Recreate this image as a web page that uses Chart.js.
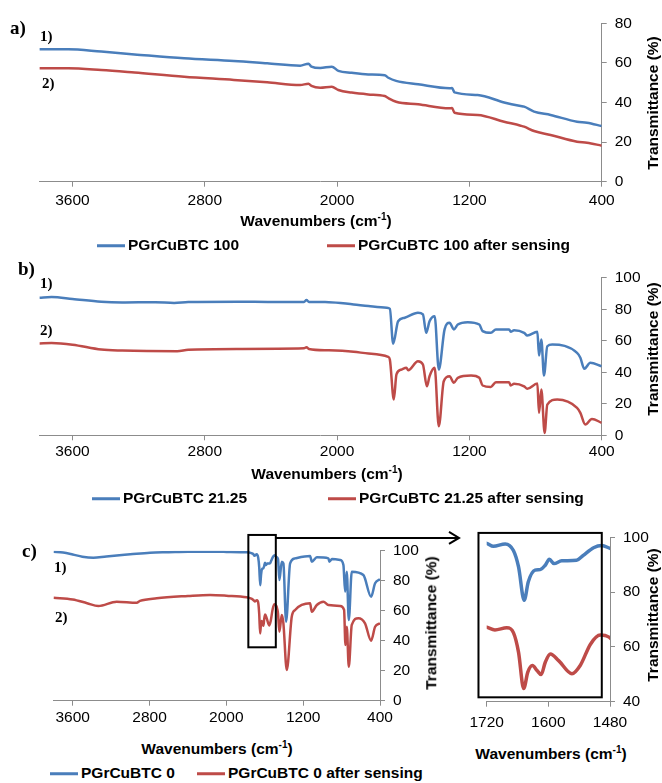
<!DOCTYPE html>
<html lang="en">
<head>
  <meta charset="UTF-8" />
  <title>FTIR spectra – PGrCuBTC</title>
  <script src="https://cdn.jsdelivr.net/npm/chart.js"></script>
  <style>
    body {
      margin: 0;
      background: #ffffff;
      font-family: 'Liberation Sans', Arial, sans-serif;
      color: #000;
    }

    #fig {
      position: relative;
      width: 662px;
      height: 783px;
      overflow: hidden;
    }

    canvas {
      position: absolute;
    }

    .tag {
      position: absolute;
      font-family: 'Liberation Serif', 'Times New Roman', serif;
      font-weight: bold;
      line-height: 1;
      transform: translateY(-50%);
    }

    .tag.panel { font-size: 19px; }
    .tag.trace { font-size: 15px; }

    .xtitle, .ytitle, .legend {
      position: absolute;
      font-weight: bold;
      font-size: 15.5px;
      line-height: 1;
      white-space: nowrap;
    }

    .xtitle { transform: translate(-50%, -50%); }
    .xtitle sup { font-size: 10px; }
    .ytitle { transform: translate(-50%, -50%) rotate(-90deg); }
    .legend { transform: translateY(-50%); }

    .legend i {
      display: inline-block;
      width: 28px;
      height: 3px;
      margin-right: 3px;
      vertical-align: middle;
    }
  </style>
</head>
<body>

<div id="fig">
  <canvas id="chartA" width="662" height="215" style="left:0;top:0"></canvas>
  <canvas id="chartB" width="662" height="215" style="left:0;top:250px"></canvas>
  <canvas id="chartC" width="462" height="215" style="left:0;top:520px"></canvas>
  <canvas id="chartZoom" width="200" height="215" style="left:462px;top:520px"></canvas>

  <!-- panel a -->
  <div class="tag panel" style="left:10px;top:27px">a)</div>
  <div class="tag trace" style="left:40px;top:36px">1)</div>
  <div class="tag trace" style="left:42px;top:83px">2)</div>
  <div class="xtitle" style="left:316px;top:220px">Wavenumbers (cm<sup>-1</sup>)</div>
  <div class="ytitle" style="left:653px;top:103px">Transmittance (%)</div>
  <div class="legend" style="left:97px;top:245px"><i style="background:#4a7ebb"></i>PGrCuBTC 100</div>
  <div class="legend" style="left:327px;top:245px"><i style="background:#be4b48"></i>PGrCuBTC 100 after sensing</div>

  <!-- panel b -->
  <div class="tag panel" style="left:18px;top:268px">b)</div>
  <div class="tag trace" style="left:40px;top:283px">1)</div>
  <div class="tag trace" style="left:40px;top:330px">2)</div>
  <div class="xtitle" style="left:327px;top:473px">Wavenumbers (cm<sup>-1</sup>)</div>
  <div class="ytitle" style="left:653px;top:349px">Transmittance (%)</div>
  <div class="legend" style="left:92px;top:498px"><i style="background:#4a7ebb"></i>PGrCuBTC 21.25</div>
  <div class="legend" style="left:328px;top:498px"><i style="background:#be4b48"></i>PGrCuBTC 21.25 after sensing</div>

  <!-- panel c -->
  <div class="tag panel" style="left:22px;top:550px">c)</div>
  <div class="tag trace" style="left:54px;top:567px">1)</div>
  <div class="tag trace" style="left:55px;top:617px">2)</div>
  <div class="xtitle" style="left:217px;top:748px">Wavenumbers (cm<sup>-1</sup>)</div>
  <div class="ytitle" style="left:431px;top:623px">Transmittance (%)</div>
  <div class="xtitle" style="left:551px;top:753px">Wavenumbers (cm<sup>-1</sup>)</div>
  <div class="ytitle" style="left:653px;top:615px">Transmittance (%)</div>
  <div class="legend" style="left:50px;top:773px"><i style="background:#4a7ebb"></i>PGrCuBTC 0</div>
  <div class="legend" style="left:197px;top:773px"><i style="background:#be4b48"></i>PGrCuBTC 0 after sensing</div>
</div>

<script>
  const BLUE = '#4a7ebb';
  const RED = '#be4b48';
  const AXIS = '#8c8c8c';

  // wavenumber ticks
  const wnTicks = [3600, 2800, 2000, 1200, 400];
  const zoomTicks = [1720, 1600, 1480];

  // a) PGrCuBTC 100
  const aWn = [3800, 3626, 3426, 3225, 2925, 2624, 2423, 2223, 2173, 2155, 2102, 2032, 1992, 1912, 1812,
               1712, 1690, 1643, 1510, 1320, 1305, 1290, 1150, 990, 890, 869, 809, 709, 549, 489, 400];
  const aBlue = [66.9, 66.9, 65.7, 64.3, 62.3, 61.0, 59.8, 58.6, 59.6, 58.1, 57.4, 58.1, 56.0, 55.0, 54.2,
                 53.8, 52.5, 50.9, 49.2, 47.2, 47.3, 45.1, 43.8, 40.0, 38.2, 37.9, 35.4, 33.7, 30.3, 29.8, 28.1];
  const aRed = [57.3, 57.3, 56.4, 55.1, 53.0, 51.4, 50.2, 48.8, 49.5, 48.4, 47.5, 48.0, 46.3, 45.0, 44.1,
                43.3, 42.2, 40.4, 39.1, 37.1, 37.2, 34.8, 33.7, 30.3, 28.3, 27.8, 25.6, 23.6, 20.2, 19.7, 18.2];

  // b) PGrCuBTC 21.25
  const bBlueWn = [3800, 3726, 3600, 3426, 3300, 3100, 2985, 2900, 2600, 2400, 2200, 2185, 2170, 2050, 1900,
                   1810, 1700, 1681, 1661, 1631, 1591, 1511, 1481, 1461, 1441, 1410, 1385, 1350, 1320, 1294,
                   1270, 1210, 1140, 1120, 1070, 1040, 960, 950, 930, 869, 850, 789, 779, 765, 749, 729,
                   699, 549, 529, 505, 469, 400];
  const bBlue = [87.3, 87.7, 86.5, 84.7, 84.3, 84.5, 84.0, 84.6, 84.8, 84.6, 84.6, 85.8, 84.6, 84.5, 83.0,
                 82.0, 81.0, 80.3, 58.1, 72.4, 74.6, 77.8, 76.7, 65.0, 72.4, 75.6, 41.7, 67.2, 71.4, 67.2,
                 70.3, 71.8, 70.3, 66.1, 65.0, 67.2, 67.2, 65.7, 66.6, 65.0, 63.3, 65.7, 50.6, 60.8, 37.9, 56.5,
                 57.6, 52.3, 49.2, 42.2, 46.0, 43.8];
  const bRedWn = [3800, 3726, 3600, 3426, 3300, 2967, 2900, 2600, 2200, 2185, 2170, 2050, 1900, 1810, 1691,
                  1681, 1657, 1641, 1611, 1581, 1570, 1511, 1481, 1457, 1441, 1410, 1385, 1355, 1320, 1294,
                  1270, 1190, 1140, 1120, 1070, 1040, 960, 950, 930, 869, 850, 789, 779, 765, 745, 729,
                  669, 549, 529, 499, 459, 400];
  const bRed = [58.3, 58.5, 57.5, 54.4, 53.8, 53.4, 54.3, 54.8, 55.2, 55.9, 54.8, 53.9, 53.0, 51.9, 49.8,
                48.1, 22.7, 38.6, 41.7, 42.8, 41.3, 47.0, 44.9, 31.1, 37.5, 42.8, 5.7, 34.3, 37.5, 33.3,
                36.5, 37.9, 36.5, 31.6, 30.7, 33.7, 33.7, 31.6, 32.7, 31.1, 29.5, 32.8, 14.2, 29.0, 1.5, 19.5,
                22.7, 17.4, 14.2, 6.8, 10.4, 7.9];

  // c) PGrCuBTC 0 (same series feed the 1720-1480 close-up)
  const cBlueWn = [3800, 3700, 3600, 3500, 3385, 3250, 3000, 2795, 2600, 2400, 2200, 2000, 1788, 1740, 1720,
                   1707, 1684, 1668, 1658, 1647, 1639, 1626, 1616, 1606, 1598, 1589, 1574, 1545, 1532, 1512,
                   1496, 1477, 1462, 1448, 1423, 1406, 1378, 1336, 1284, 1128, 1110, 1058, 937, 927, 900,
                   815, 781, 763, 746, 725, 694, 573, 493, 451, 400];
  const cBlue = [99.3, 98.8, 97.5, 96.0, 95.3, 96.2, 97.6, 98.7, 99.0, 99.3, 99.3, 99.2, 98.9, 98.4, 97.8,
                 96.7, 97.6, 95.2, 89.2, 77.0, 83.8, 88.0, 88.2, 89.8, 92.0, 90.4, 91.4, 91.6, 93.4, 96.2,
                 97.0, 95.8, 94.5, 80.5, 92.7, 91.6, 52.7, 91.6, 94.9, 96.5, 92.7, 95.6, 94.9, 92.7, 94.4,
                 93.8, 90.5, 72.7, 86.0, 53.8, 86.0, 83.8, 69.3, 78.3, 80.9];
  const cRedWn = [3800, 3600, 3450, 3333, 3142, 2933, 2900, 2725, 2400, 2170, 2000, 1788, 1740, 1720, 1704,
                  1681, 1668, 1658, 1648, 1640, 1631, 1622, 1614, 1606, 1596, 1580, 1554, 1538, 1518, 1499,
                  1477, 1462, 1448, 1423, 1406, 1371, 1319, 1284, 1128, 1110, 1058, 989, 937, 815, 774,
                  760, 746, 725, 694, 625, 556, 493, 451, 400];
  const cRed = [68.7, 67.5, 65.0, 63.1, 66.0, 65.3, 66.5, 68.3, 69.8, 70.5, 70.0, 68.9, 68.0, 67.2, 66.2,
                67.0, 65.2, 58.0, 44.8, 50.8, 53.2, 51.4, 49.9, 54.4, 57.4, 55.0, 50.2, 53.2, 61.0, 64.3,
                62.8, 58.0, 46.0, 57.1, 51.6, 20.5, 56.0, 60.5, 64.9, 59.3, 63.8, 66.0, 63.8, 63.1, 60.5,
                37.1, 49.3, 22.7, 50.5, 55.0, 51.6, 40.0, 49.3, 51.6];

  // black frames: region picked out on the full spectrum, and around the close-up
  const pickBox = { from: 1771, to: 1485, top: 110.5, bottom: 35.6 };
  const zoomBox = { from: 1736, to: 1496, top: 101.6, bottom: 41.6 };

  Chart.defaults.font.family = "'Liberation Sans', Arial, sans-serif";
  Chart.defaults.color = '#000';

  // draws a black rectangle in data coordinates, optionally with an arrow leaving its top edge
  const frameBox = {
    id: 'frameBox',
    afterDatasetsDraw(chart, args, opts) {
      if (!opts.box) return;
      const { ctx, scales: { x, y } } = chart;
      const l = x.getPixelForValue(opts.box.from);
      const r = x.getPixelForValue(opts.box.to);
      const t = y.getPixelForValue(opts.box.top);
      const b = y.getPixelForValue(opts.box.bottom);
      ctx.save();
      ctx.strokeStyle = '#000';
      ctx.lineWidth = 2;
      ctx.strokeRect(l, t, r - l, b - t);
      if (opts.arrowTo) {
        const ay = t + 3;
        ctx.beginPath();
        ctx.moveTo(r, ay);
        ctx.lineTo(opts.arrowTo, ay);
        ctx.moveTo(opts.arrowTo - 10, ay - 6);
        ctx.lineTo(opts.arrowTo, ay);
        ctx.lineTo(opts.arrowTo - 10, ay + 6);
        ctx.stroke();
      }
      ctx.restore();
    }
  };
  Chart.register(frameBox);

  const spectrum = (id, cfg) => {
    const canvas = document.getElementById(id);
    const W = canvas.width, H = canvas.height;
    const tickFont = { size: 15.5 };
    return new Chart(canvas, {
      type: 'line',
      data: {
        datasets: cfg.series.map(s => ({
          data: s.wn.map((x, i) => ({ x, y: s.t[i] })),
          borderColor: s.color,
          backgroundColor: s.color,
          borderWidth: cfg.lineWidth,
          pointRadius: 0,
          cubicInterpolationMode: 'monotone'
        }))
      },
      options: {
        responsive: false,
        animation: false,
        devicePixelRatio: 1,
        layout: { padding: { left: cfg.area.left, top: cfg.area.top, right: 0, bottom: 0 } },
        elements: { line: { capBezierPoints: false } },
        plugins: {
          legend: { display: false },
          tooltip: { enabled: false },
          frameBox: cfg.frame || {}
        },
        scales: {
          x: {
            type: 'linear',
            reverse: true,
            min: cfg.xMin,
            max: cfg.xMax,
            afterBuildTicks: s => { s.ticks = cfg.xTicks.map(v => ({ value: v })); },
            afterFit: s => { s.height = H - cfg.area.bottom; },
            grid: { drawOnChartArea: false, drawTicks: true, tickLength: 5, color: AXIS },
            border: { display: true, color: AXIS, width: 1 },
            ticks: { font: tickFont, padding: cfg.xPad, autoSkip: false, maxRotation: 0, callback: v => String(v) }
          },
          y: {
            position: 'right',
            min: cfg.yMin,
            max: cfg.yMax,
            afterFit: s => { s.width = W - cfg.area.right; },
            grid: { drawOnChartArea: false, drawTicks: true, tickLength: 5, color: AXIS },
            border: { display: true, color: AXIS, width: 1 },
            ticks: { font: tickFont, stepSize: 20, padding: 8, callback: v => String(v) }
          }
        }
      }
    });
  };

  spectrum('chartA', {
    area: { left: 39.4, top: 23.3, right: 601.7, bottom: 181.7 },
    xMin: 400, xMax: 3800, xTicks: wnTicks, xPad: 5,
    yMin: 0, yMax: 80, lineWidth: 2.5,
    series: [
      { wn: aWn, t: aBlue, color: BLUE },
      { wn: aWn, t: aRed, color: RED }
    ]
  });

  spectrum('chartB', {
    area: { left: 39.4, top: 27.7, right: 601.7, bottom: 185.3 },
    xMin: 400, xMax: 3800, xTicks: wnTicks, xPad: 2.5,
    yMin: 0, yMax: 100, lineWidth: 2.5,
    series: [
      { wn: bBlueWn, t: bBlue, color: BLUE },
      { wn: bRedWn, t: bRed, color: RED }
    ]
  });

  spectrum('chartC', {
    area: { left: 53.5, top: 30.7, right: 380, bottom: 180.7 },
    xMin: 400, xMax: 3800, xTicks: wnTicks, xPad: 3,
    yMin: 0, yMax: 100, lineWidth: 2.5,
    frame: { box: pickBox, arrowTo: 459 },
    series: [
      { wn: cBlueWn, t: cBlue, color: BLUE },
      { wn: cRedWn, t: cRed, color: RED }
    ]
  });

  spectrum('chartZoom', {
    area: { left: 24.7, top: 15, right: 148, bottom: 181.7 },
    xMin: 1480, xMax: 1720, xTicks: zoomTicks, xPad: 6.5,
    yMin: 40, yMax: 100, lineWidth: 3.5,
    frame: { box: zoomBox },
    series: [
      { wn: cBlueWn, t: cBlue, color: BLUE },
      { wn: cRedWn, t: cRed, color: RED }
    ]
  });
</script>

</body>
</html>
